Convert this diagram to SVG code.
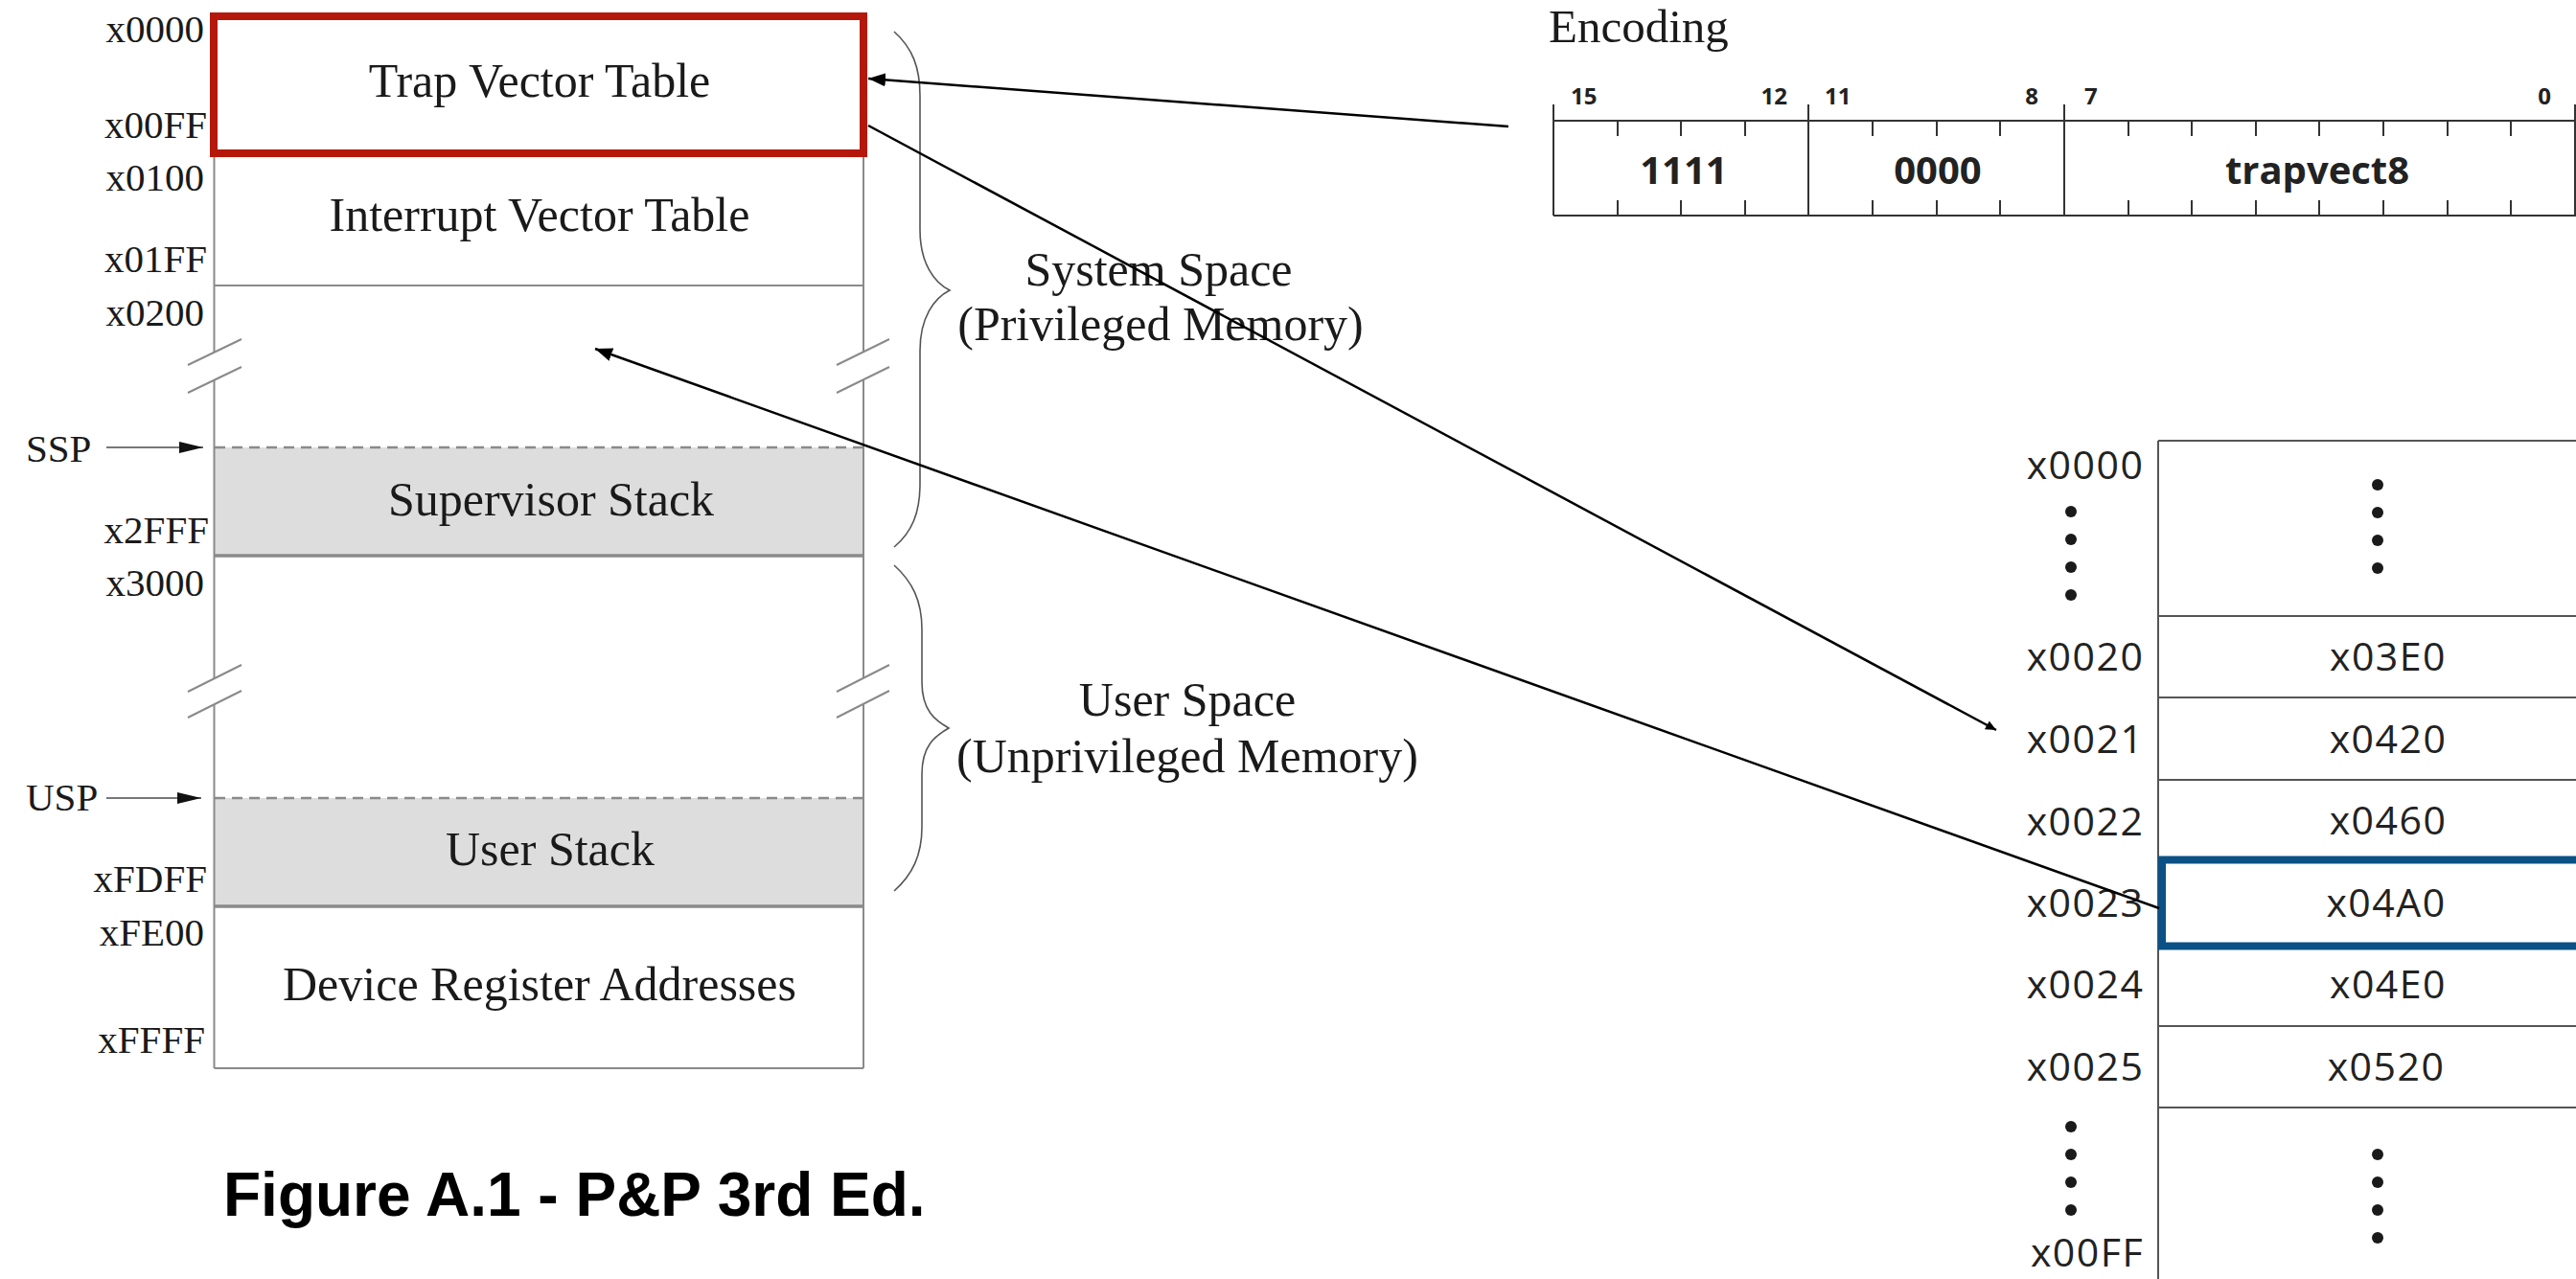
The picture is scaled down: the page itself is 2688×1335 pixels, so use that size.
<svg xmlns="http://www.w3.org/2000/svg" width="2688" height="1335" viewBox="0 0 2688 1335">
<style>
.serif{font-family:"Liberation Serif","Times New Roman",serif;fill:#1a1a1a}
.lbl{font-size:41px;text-anchor:end}
.big{font-size:50px;text-anchor:middle}
.col{stroke:#8a8a8a;stroke-width:2;fill:none}
.thick{stroke:#8a8a8a;stroke-width:3.5;fill:none}
.dash{stroke:#8a8a8a;stroke-width:2.5;stroke-dasharray:11 7;fill:none}
.shade{fill:#dddddd}
.brk{fill:#ffffff;stroke:none}
.brace{stroke:#555;stroke-width:1.6;fill:none}
.sans{font-family:"Open Sans","Liberation Sans",sans-serif;fill:#222}
.row{font-size:41px;text-anchor:middle;letter-spacing:1.5px;font-weight:500}
.tbl{stroke:#555;stroke-width:2;fill:none}
.enc{stroke:#333;stroke-width:2;fill:none}
.bitn{font-size:24px;font-weight:bold}
.fld{font-size:40px;font-weight:bold;text-anchor:middle}
.conn{stroke:#000;stroke-width:2.5;fill:none}
.ptr{stroke:#777;stroke-width:2;fill:none}
</style>
<defs>
<marker id="ah" markerUnits="userSpaceOnUse" markerWidth="20" markerHeight="14" refX="18" refY="7" orient="auto">
<path d="M0,0 L18,7 L0,14 Z" fill="#000"/>
</marker>
<marker id="ahs" markerUnits="userSpaceOnUse" markerWidth="12" markerHeight="10" refX="11" refY="5" orient="auto">
<path d="M0,0 L11,5 L0,10 Z" fill="#000"/>
</marker>
<marker id="ahp" markerUnits="userSpaceOnUse" markerWidth="26" markerHeight="14" refX="25" refY="7" orient="auto">
<path d="M0,1 L25,7 L0,13 Z" fill="#111"/>
</marker>
</defs>
<rect x="0" y="0" width="2688" height="1335" fill="#ffffff"/>

<g id="memory-map">
<rect class="shade" x="224" y="467" width="677" height="113"/>
<rect class="shade" x="224" y="833" width="677" height="113"/>
<line class="col" x1="223.5" y1="17" x2="223.5" y2="1115"/>
<line class="col" x1="901" y1="17" x2="901" y2="1115"/>
<line class="col" x1="223.5" y1="159" x2="901" y2="159"/>
<line class="col" x1="223.5" y1="298" x2="901" y2="298"/>
<line class="dash" x1="224" y1="467" x2="901" y2="467"/>
<line class="thick" x1="223.5" y1="580" x2="901" y2="580"/>
<line class="dash" x1="224" y1="833" x2="901" y2="833"/>
<line class="thick" x1="223.5" y1="946" x2="901" y2="946"/>
<line class="col" x1="223.5" y1="1115" x2="901" y2="1115"/>
<polygon class="brk" points="196,381 252,354 252,383 196,410"/>
<polygon class="brk" points="873,381 928,354 928,383 873,410"/>
<polygon class="brk" points="196,722 252,694 252,721 196,749"/>
<polygon class="brk" points="873,722 928,694 928,721 873,749"/>
<path class="col" d="M196,381 L252,354 M196,410 L252,383 M873,381 L928,354 M873,410 L928,383 M196,722 L252,694 M196,749 L252,721 M873,722 L928,694 M873,749 L928,721"/>
<text class="serif big" x="563" y="241">Interrupt Vector Table</text>
<text class="serif big" x="575" y="538">Supervisor Stack</text>
<text class="serif big" x="574" y="903">User Stack</text>
<text class="serif big" x="563" y="1044">Device Register Addresses</text>
<text class="serif lbl" x="213" y="44">x0000</text>
<text class="serif lbl" x="216" y="144">x00FF</text>
<text class="serif lbl" x="213" y="199">x0100</text>
<text class="serif lbl" x="216" y="284">x01FF</text>
<text class="serif lbl" x="213" y="340">x0200</text>
<text class="serif lbl" x="218" y="567">x2FFF</text>
<text class="serif lbl" x="213" y="622">x3000</text>
<text class="serif lbl" x="216" y="931">xFDFF</text>
<text class="serif lbl" x="213" y="987">xFE00</text>
<text class="serif lbl" x="214" y="1099">xFFFF</text>
<text class="serif" x="27" y="482" font-size="41">SSP</text>
<text class="serif" x="27" y="846" font-size="41">USP</text>
<line class="ptr" x1="111" y1="467" x2="212" y2="467" marker-end="url(#ahp)"/>
<line class="ptr" x1="111" y1="833" x2="210" y2="833" marker-end="url(#ahp)"/>
</g>

<g id="trap-vector-table">
<rect x="223" y="17" width="678" height="143" fill="none" stroke="#b5170b" stroke-width="8"/>
<text class="serif big" x="563" y="101">Trap Vector Table</text>
</g>

<g id="system-space">
<path class="brace" d="M933,33 C952,50 960,70 960,100 L960,240 C960,275 975,295 991,303 C975,311 960,331 960,366 L960,505 C960,535 952,555 933,571"/>
<text class="serif big" x="1209" y="298">System Space</text>
<text class="serif big" x="1211" y="355">(Privileged Memory)</text>
</g>

<g id="user-space">
<path class="brace" d="M933,590 C952,607 962,627 962,657 L962,712 C962,742 976,752 990,760 C976,768 962,778 962,808 L962,863 C962,893 952,913 933,930"/>
<text class="serif big" x="1239" y="747">User Space</text>
<text class="serif big" x="1239" y="806">(Unprivileged Memory)</text>
</g>

<g id="encoding">
<text class="serif" x="1616" y="44" font-size="49">Encoding</text>
<path class="enc" d="M1621,109 V225 M1887,109 V225 M2154,109 V225 M2687,109 V225 M1621,126 H2688 M1621,225 H2688"/>
<path class="enc" d="M1688,126 v16 M1754,126 v16 M1821,126 v16 M1954,126 v16 M2021,126 v16 M2087,126 v16 M2221,126 v16 M2287,126 v16 M2354,126 v16 M2420,126 v16 M2487,126 v16 M2554,126 v16 M2620,126 v16"/>
<path class="enc" d="M1688,209 v16 M1754,209 v16 M1821,209 v16 M1954,209 v16 M2021,209 v16 M2087,209 v16 M2221,209 v16 M2287,209 v16 M2354,209 v16 M2420,209 v16 M2487,209 v16 M2554,209 v16 M2620,209 v16"/>
<text class="sans bitn" x="1639" y="109">15</text>
<text class="sans bitn" x="1865" y="109" text-anchor="end">12</text>
<text class="sans bitn" x="1904" y="109">11</text>
<text class="sans bitn" x="2127" y="109" text-anchor="end">8</text>
<text class="sans bitn" x="2175" y="109">7</text>
<text class="sans bitn" x="2662" y="109" text-anchor="end">0</text>
<text class="sans fld" x="1757" y="192">1111</text>
<text class="sans fld" x="2022" y="192">0000</text>
<text class="sans fld" x="2418" y="192">trapvect8</text>
</g>

<g id="vector-table">
<path class="tbl" d="M2252,460 H2700 M2252,460 V1335 M2252,643 H2700 M2252,728 H2700 M2252,814 H2700 M2252,1071 H2700 M2252,1156 H2700"/>
<text class="sans row" x="2176" y="500">x0000</text>
<text class="sans row" x="2176" y="700">x0020</text>
<text class="sans row" x="2176" y="786">x0021</text>
<text class="sans row" x="2176" y="872">x0022</text>
<text class="sans row" x="2176" y="957">x0023</text>
<text class="sans row" x="2176" y="1042">x0024</text>
<text class="sans row" x="2176" y="1128">x0025</text>
<text class="sans row" x="2178" y="1322">x00FF</text>
<text class="sans row" x="2492" y="700">x03E0</text>
<text class="sans row" x="2492" y="786">x0420</text>
<text class="sans row" x="2492" y="871">x0460</text>
<text class="sans row" x="2492" y="1042">x04E0</text>
<text class="sans row" x="2490" y="1128">x0520</text>
<g fill="#1a1a1a">
<circle cx="2161" cy="534" r="6"/><circle cx="2161" cy="563" r="6"/><circle cx="2161" cy="592" r="6"/><circle cx="2161" cy="621" r="6"/>
<circle cx="2161" cy="1176" r="6"/><circle cx="2161" cy="1205" r="6"/><circle cx="2161" cy="1234" r="6"/><circle cx="2161" cy="1263" r="6"/>
<circle cx="2481" cy="506" r="6"/><circle cx="2481" cy="535" r="6"/><circle cx="2481" cy="564" r="6"/><circle cx="2481" cy="593" r="6"/>
<circle cx="2481" cy="1205" r="6"/><circle cx="2481" cy="1234" r="6"/><circle cx="2481" cy="1263" r="6"/><circle cx="2481" cy="1292" r="6"/>
</g>
</g>

<g id="entry-x0023">
<rect x="2256" y="897.5" width="450" height="90" fill="none" stroke="#0b5185" stroke-width="8"/>
<text class="sans row" x="2490" y="957">x04A0</text>
</g>

<g id="connectors">
<line class="conn" x1="1574" y1="132" x2="906" y2="82" marker-end="url(#ah)"/>
<line class="conn" x1="906" y1="131" x2="2083" y2="762" marker-end="url(#ahs)"/>
<line class="conn" x1="2253" y1="948" x2="621" y2="364" marker-end="url(#ah)"/>
</g>

<g id="caption">
<text x="233" y="1269" font-family="'Liberation Sans',Arial,sans-serif" font-weight="bold" font-size="64" fill="#000">Figure A.1 - P&amp;P 3rd Ed.</text>
</g>
</svg>
